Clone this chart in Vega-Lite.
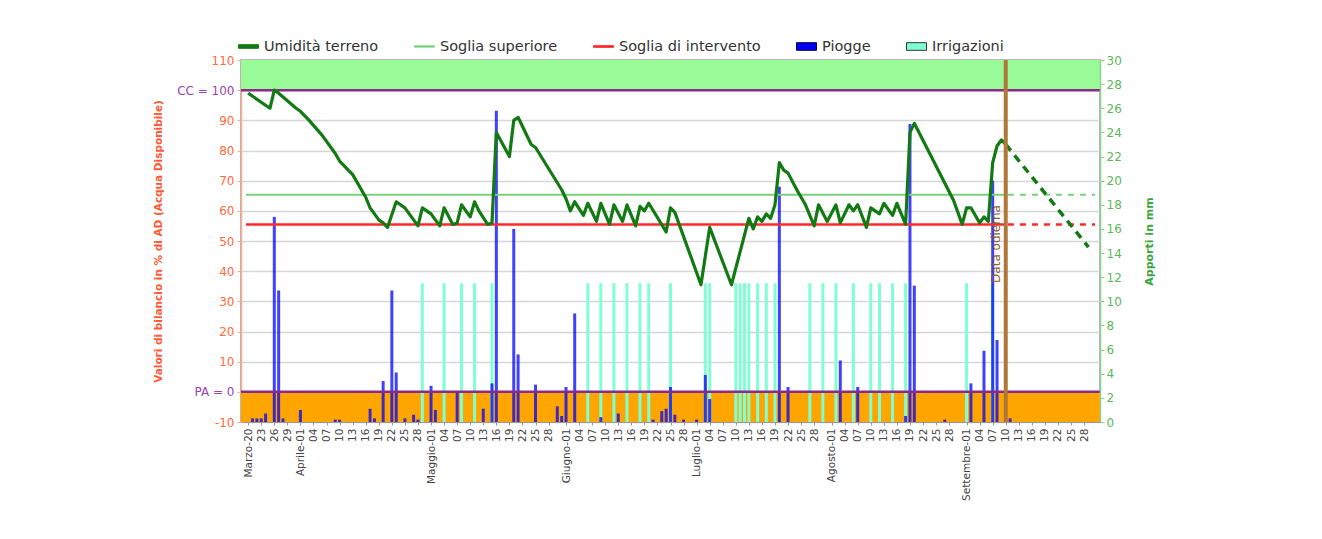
{
  "$schema": "https://vega.github.io/schema/vega-lite/v6.json",
  "width": 859,
  "height": 362,
  "autosize": {"type": "none"},
  "padding": {"left": 241, "top": 60, "right": 222, "bottom": 117},
  "background": "white",
  "config": {
    "font": "DejaVu Sans",
    "view": {"stroke": "#9a9a9a", "strokeWidth": 1.5},
    "axis": {"labelFont": "DejaVu Sans", "titleFont": "DejaVu Sans", "labelOverlap": false},
    "legend": {"labelFont": "DejaVu Sans"}
  },
  "datasets": {
    "umidita": [
      {"data": "2011-03-20T00:00", "v": 99}, {"data": "2011-03-25T00:00", "v": 94}, {"data": "2011-03-26T00:00", "v": 100},
      {"data": "2011-03-27T00:00", "v": 99}, {"data": "2011-03-31T00:00", "v": 94}, {"data": "2011-04-01T00:00", "v": 93},
      {"data": "2011-04-03T00:00", "v": 90}, {"data": "2011-04-06T00:00", "v": 85}, {"data": "2011-04-09T00:00", "v": 79},
      {"data": "2011-04-10T00:00", "v": 76.5}, {"data": "2011-04-13T00:00", "v": 72}, {"data": "2011-04-16T00:00", "v": 64.5},
      {"data": "2011-04-17T00:00", "v": 61}, {"data": "2011-04-19T00:00", "v": 57}, {"data": "2011-04-20T00:00", "v": 56},
      {"data": "2011-04-21T00:00", "v": 54.5}, {"data": "2011-04-23T00:00", "v": 63}, {"data": "2011-04-25T00:00", "v": 61},
      {"data": "2011-04-28T00:00", "v": 55}, {"data": "2011-04-29T00:00", "v": 61}, {"data": "2011-05-01T00:00", "v": 59},
      {"data": "2011-05-03T00:00", "v": 55}, {"data": "2011-05-04T00:00", "v": 61}, {"data": "2011-05-06T00:00", "v": 55.5},
      {"data": "2011-05-07T00:00", "v": 56}, {"data": "2011-05-08T00:00", "v": 62}, {"data": "2011-05-10T00:00", "v": 58},
      {"data": "2011-05-11T00:00", "v": 63}, {"data": "2011-05-12T00:00", "v": 60}, {"data": "2011-05-14T00:00", "v": 55.5},
      {"data": "2011-05-15T00:00", "v": 56}, {"data": "2011-05-16T00:00", "v": 86}, {"data": "2011-05-19T00:00", "v": 78},
      {"data": "2011-05-20T00:00", "v": 90}, {"data": "2011-05-21T00:00", "v": 91}, {"data": "2011-05-24T00:00", "v": 82},
      {"data": "2011-05-25T00:00", "v": 81}, {"data": "2011-05-31T00:00", "v": 67}, {"data": "2011-06-01T00:00", "v": 64},
      {"data": "2011-06-02T00:00", "v": 60}, {"data": "2011-06-03T00:00", "v": 63}, {"data": "2011-06-05T00:00", "v": 58.5},
      {"data": "2011-06-06T00:00", "v": 62.5}, {"data": "2011-06-08T00:00", "v": 56.5}, {"data": "2011-06-09T00:00", "v": 62.5},
      {"data": "2011-06-11T00:00", "v": 55.5}, {"data": "2011-06-12T00:00", "v": 62}, {"data": "2011-06-14T00:00", "v": 56.5},
      {"data": "2011-06-15T00:00", "v": 62}, {"data": "2011-06-17T00:00", "v": 55}, {"data": "2011-06-18T00:00", "v": 61.5},
      {"data": "2011-06-19T00:00", "v": 60}, {"data": "2011-06-20T00:00", "v": 62.5}, {"data": "2011-06-24T00:00", "v": 53},
      {"data": "2011-06-25T00:00", "v": 61}, {"data": "2011-06-26T00:00", "v": 59.5}, {"data": "2011-07-02T00:00", "v": 35.5},
      {"data": "2011-07-04T00:00", "v": 54.5}, {"data": "2011-07-09T00:00", "v": 35.5}, {"data": "2011-07-13T00:00", "v": 57.5},
      {"data": "2011-07-14T00:00", "v": 54}, {"data": "2011-07-15T00:00", "v": 58}, {"data": "2011-07-16T00:00", "v": 56.5},
      {"data": "2011-07-17T00:00", "v": 59}, {"data": "2011-07-18T00:00", "v": 57.5}, {"data": "2011-07-19T00:00", "v": 62},
      {"data": "2011-07-20T00:00", "v": 76}, {"data": "2011-07-21T00:00", "v": 73.5}, {"data": "2011-07-22T00:00", "v": 72.5},
      {"data": "2011-07-24T00:00", "v": 67}, {"data": "2011-07-26T00:00", "v": 62}, {"data": "2011-07-28T00:00", "v": 55},
      {"data": "2011-07-29T00:00", "v": 62}, {"data": "2011-07-31T00:00", "v": 56.5}, {"data": "2011-08-02T00:00", "v": 62},
      {"data": "2011-08-03T00:00", "v": 56}, {"data": "2011-08-05T00:00", "v": 62}, {"data": "2011-08-06T00:00", "v": 60},
      {"data": "2011-08-07T00:00", "v": 62}, {"data": "2011-08-09T00:00", "v": 54.5}, {"data": "2011-08-10T00:00", "v": 61},
      {"data": "2011-08-12T00:00", "v": 59}, {"data": "2011-08-13T00:00", "v": 62.5}, {"data": "2011-08-15T00:00", "v": 58.5},
      {"data": "2011-08-16T00:00", "v": 62.5}, {"data": "2011-08-18T00:00", "v": 55.5}, {"data": "2011-08-19T00:00", "v": 86},
      {"data": "2011-08-20T00:00", "v": 89}, {"data": "2011-08-29T00:00", "v": 63.5}, {"data": "2011-08-31T00:00", "v": 55.5},
      {"data": "2011-09-01T00:00", "v": 61}, {"data": "2011-09-02T00:00", "v": 61}, {"data": "2011-09-04T00:00", "v": 56},
      {"data": "2011-09-05T00:00", "v": 58}, {"data": "2011-09-06T00:00", "v": 56.5}, {"data": "2011-09-07T00:00", "v": 76},
      {"data": "2011-09-08T00:00", "v": 81.5}, {"data": "2011-09-09T00:00", "v": 83.5}, {"data": "2011-09-10T00:00", "v": 82}
    ],
    "previsione": [
      {"data": "2011-09-10T00:00", "v": 82}, {"data": "2011-09-29T00:00", "v": 48}
    ],
    "soglie": [
      {"serie": "sup", "tipo": "oss", "data": "2011-03-19T12:00", "v": 65.3},
      {"serie": "sup", "tipo": "oss", "data": "2011-09-10T00:00", "v": 65.3},
      {"serie": "sup", "tipo": "prev", "data": "2011-09-10T12:00", "v": 65.3},
      {"serie": "sup", "tipo": "prev", "data": "2011-09-30T12:00", "v": 65.3},
      {"serie": "int", "tipo": "oss", "data": "2011-03-19T12:00", "v": 55.5},
      {"serie": "int", "tipo": "oss", "data": "2011-09-10T00:00", "v": 55.5},
      {"serie": "int", "tipo": "prev", "data": "2011-09-10T12:00", "v": 55.5},
      {"serie": "int", "tipo": "prev", "data": "2011-09-30T12:00", "v": 55.5}
    ],
    "piogge": [
      {"data": "2011-03-21T00:00", "mm": 0.3}, {"data": "2011-03-22T00:00", "mm": 0.3}, {"data": "2011-03-23T00:00", "mm": 0.3},
      {"data": "2011-03-24T00:00", "mm": 0.7}, {"data": "2011-03-26T00:00", "mm": 17}, {"data": "2011-03-27T00:00", "mm": 10.9},
      {"data": "2011-03-28T00:00", "mm": 0.3}, {"data": "2011-04-01T00:00", "mm": 1.0}, {"data": "2011-04-09T00:00", "mm": 0.2},
      {"data": "2011-04-10T00:00", "mm": 0.2}, {"data": "2011-04-17T00:00", "mm": 1.1}, {"data": "2011-04-18T00:00", "mm": 0.3},
      {"data": "2011-04-20T00:00", "mm": 3.4}, {"data": "2011-04-22T00:00", "mm": 10.9}, {"data": "2011-04-23T00:00", "mm": 4.1},
      {"data": "2011-04-25T00:00", "mm": 0.3}, {"data": "2011-04-27T00:00", "mm": 0.6}, {"data": "2011-04-28T00:00", "mm": 0.2},
      {"data": "2011-05-01T00:00", "mm": 3.0}, {"data": "2011-05-02T00:00", "mm": 1.0}, {"data": "2011-05-07T00:00", "mm": 2.5},
      {"data": "2011-05-13T00:00", "mm": 1.1}, {"data": "2011-05-15T00:00", "mm": 3.2}, {"data": "2011-05-16T00:00", "mm": 25.8},
      {"data": "2011-05-20T00:00", "mm": 16.0}, {"data": "2011-05-21T00:00", "mm": 5.6}, {"data": "2011-05-25T00:00", "mm": 3.1},
      {"data": "2011-05-30T00:00", "mm": 1.3}, {"data": "2011-05-31T00:00", "mm": 0.5}, {"data": "2011-06-01T00:00", "mm": 2.9},
      {"data": "2011-06-03T00:00", "mm": 9.0}, {"data": "2011-06-09T00:00", "mm": 0.4}, {"data": "2011-06-13T00:00", "mm": 0.7},
      {"data": "2011-06-21T00:00", "mm": 0.2}, {"data": "2011-06-23T00:00", "mm": 0.9}, {"data": "2011-06-24T00:00", "mm": 1.1},
      {"data": "2011-06-25T00:00", "mm": 2.9}, {"data": "2011-06-26T00:00", "mm": 0.6}, {"data": "2011-06-28T00:00", "mm": 0.2},
      {"data": "2011-07-01T00:00", "mm": 0.2}, {"data": "2011-07-03T00:00", "mm": 3.9}, {"data": "2011-07-04T00:00", "mm": 1.9},
      {"data": "2011-07-20T00:00", "mm": 19.5}, {"data": "2011-07-22T00:00", "mm": 2.9}, {"data": "2011-08-03T00:00", "mm": 5.1},
      {"data": "2011-08-07T00:00", "mm": 2.9}, {"data": "2011-08-18T00:00", "mm": 0.5}, {"data": "2011-08-19T00:00", "mm": 24.7},
      {"data": "2011-08-20T00:00", "mm": 11.3}, {"data": "2011-08-27T00:00", "mm": 0.2}, {"data": "2011-09-02T00:00", "mm": 3.2},
      {"data": "2011-09-05T00:00", "mm": 5.9}, {"data": "2011-09-07T00:00", "mm": 20}, {"data": "2011-09-08T00:00", "mm": 6.8},
      {"data": "2011-09-11T00:00", "mm": 0.3}
    ],
    "irrigazioni": [
      {"data": "2011-04-29T00:00", "mm": 11.5}, {"data": "2011-05-04T00:00", "mm": 11.5}, {"data": "2011-05-08T00:00", "mm": 11.5},
      {"data": "2011-05-11T00:00", "mm": 11.5}, {"data": "2011-05-15T00:00", "mm": 11.5}, {"data": "2011-06-06T00:00", "mm": 11.5},
      {"data": "2011-06-09T00:00", "mm": 11.5}, {"data": "2011-06-12T00:00", "mm": 11.5}, {"data": "2011-06-15T00:00", "mm": 11.5},
      {"data": "2011-06-18T00:00", "mm": 11.5}, {"data": "2011-06-20T00:00", "mm": 11.5}, {"data": "2011-06-25T00:00", "mm": 11.5},
      {"data": "2011-07-03T00:00", "mm": 11.5}, {"data": "2011-07-04T00:00", "mm": 11.5}, {"data": "2011-07-10T00:00", "mm": 11.5},
      {"data": "2011-07-11T00:00", "mm": 11.5}, {"data": "2011-07-12T00:00", "mm": 11.5}, {"data": "2011-07-13T00:00", "mm": 11.5},
      {"data": "2011-07-15T00:00", "mm": 11.5}, {"data": "2011-07-17T00:00", "mm": 11.5}, {"data": "2011-07-19T00:00", "mm": 11.5},
      {"data": "2011-07-27T00:00", "mm": 11.5}, {"data": "2011-07-30T00:00", "mm": 11.5}, {"data": "2011-08-02T00:00", "mm": 11.5},
      {"data": "2011-08-06T00:00", "mm": 11.5}, {"data": "2011-08-10T00:00", "mm": 11.5}, {"data": "2011-08-12T00:00", "mm": 11.5},
      {"data": "2011-08-15T00:00", "mm": 11.5}, {"data": "2011-08-18T00:00", "mm": 11.5}, {"data": "2011-09-01T00:00", "mm": 11.5},
      {"data": "2011-09-07T00:00", "mm": 11.5}
    ]
  },
  "layer": [
    {
      "data": {"values": [
        {"y0": -10, "y1": 0, "fascia": "PA"},
        {"y0": 100, "y1": 110, "fascia": "CC"}
      ]},
      "mark": {"type": "rect"},
      "encoding": {
        "y": {
          "field": "y0", "type": "quantitative",
          "scale": {"domain": [-10, 110], "nice": false, "zero": false},
          "axis": {
            "title": "Valori di bilancio in % di AD (Acqua Disponibile)",
            "titleColor": "#ff5a36", "titleFontSize": 10.5, "titleFontWeight": "bold", "titlePadding": 13,
            "values": [-10, 0, 10, 20, 30, 40, 50, 60, 70, 80, 90, 100, 110],
            "tickCount": 100,
            "labelExpr": "datum.value == 100 ? 'CC = 100' : (datum.value == 0 ? 'PA = 0' : (datum.value < 0 ? '-10' : '' + datum.value))",
            "labelColor": {"condition": {"test": "datum.value == 100 || datum.value == 0", "value": "#9c3fb3"}, "value": "#ff6a3d"},
            "labelFontSize": 12,
            "labelPadding": 3,
            "labelOverlap": false,
            "grid": true, "gridColor": "#d6d6d6", "gridWidth": 1.5,
            "domainColor": "#ffab8f", "domainWidth": 1.5,
            "tickColor": "#ffab8f", "tickSize": 4
          }
        },
        "y2": {"field": "y1"},
        "color": {
          "field": "fascia", "type": "nominal",
          "scale": {"domain": ["PA", "CC"], "range": ["#ffa500", "#98fb98"]},
          "legend": null
        }
      }
    },
    {
      "layer": [
        {
          "data": {"name": "irrigazioni"},
          "mark": {"type": "bar", "width": 3, "color": "#80ffd4"},
          "encoding": {
            "x": {
              "field": "data", "type": "temporal",
              "scale": {"domain": [{"year": 2011, "month": 3, "date": 19, "hours": 12}, {"year": 2011, "month": 9, "date": 30, "hours": 12}]},
              "axis": {
                "title": null,
                "tickCount": 500,
                "values": [
                  {"year": 2011, "month": 3, "date": 20}, {"year": 2011, "month": 3, "date": 23}, {"year": 2011, "month": 3, "date": 26}, {"year": 2011, "month": 3, "date": 29},
                  {"year": 2011, "month": 4, "date": 1}, {"year": 2011, "month": 4, "date": 4}, {"year": 2011, "month": 4, "date": 7}, {"year": 2011, "month": 4, "date": 10}, {"year": 2011, "month": 4, "date": 13}, {"year": 2011, "month": 4, "date": 16}, {"year": 2011, "month": 4, "date": 19}, {"year": 2011, "month": 4, "date": 22}, {"year": 2011, "month": 4, "date": 25}, {"year": 2011, "month": 4, "date": 28},
                  {"year": 2011, "month": 5, "date": 1}, {"year": 2011, "month": 5, "date": 4}, {"year": 2011, "month": 5, "date": 7}, {"year": 2011, "month": 5, "date": 10}, {"year": 2011, "month": 5, "date": 13}, {"year": 2011, "month": 5, "date": 16}, {"year": 2011, "month": 5, "date": 19}, {"year": 2011, "month": 5, "date": 22}, {"year": 2011, "month": 5, "date": 25}, {"year": 2011, "month": 5, "date": 28},
                  {"year": 2011, "month": 6, "date": 1}, {"year": 2011, "month": 6, "date": 4}, {"year": 2011, "month": 6, "date": 7}, {"year": 2011, "month": 6, "date": 10}, {"year": 2011, "month": 6, "date": 13}, {"year": 2011, "month": 6, "date": 16}, {"year": 2011, "month": 6, "date": 19}, {"year": 2011, "month": 6, "date": 22}, {"year": 2011, "month": 6, "date": 25}, {"year": 2011, "month": 6, "date": 28},
                  {"year": 2011, "month": 7, "date": 1}, {"year": 2011, "month": 7, "date": 4}, {"year": 2011, "month": 7, "date": 7}, {"year": 2011, "month": 7, "date": 10}, {"year": 2011, "month": 7, "date": 13}, {"year": 2011, "month": 7, "date": 16}, {"year": 2011, "month": 7, "date": 19}, {"year": 2011, "month": 7, "date": 22}, {"year": 2011, "month": 7, "date": 25}, {"year": 2011, "month": 7, "date": 28},
                  {"year": 2011, "month": 8, "date": 1}, {"year": 2011, "month": 8, "date": 4}, {"year": 2011, "month": 8, "date": 7}, {"year": 2011, "month": 8, "date": 10}, {"year": 2011, "month": 8, "date": 13}, {"year": 2011, "month": 8, "date": 16}, {"year": 2011, "month": 8, "date": 19}, {"year": 2011, "month": 8, "date": 22}, {"year": 2011, "month": 8, "date": 25}, {"year": 2011, "month": 8, "date": 28},
                  {"year": 2011, "month": 9, "date": 1}, {"year": 2011, "month": 9, "date": 4}, {"year": 2011, "month": 9, "date": 7}, {"year": 2011, "month": 9, "date": 10}, {"year": 2011, "month": 9, "date": 13}, {"year": 2011, "month": 9, "date": 16}, {"year": 2011, "month": 9, "date": 19}, {"year": 2011, "month": 9, "date": 22}, {"year": 2011, "month": 9, "date": 25}, {"year": 2011, "month": 9, "date": 28}
                ],
                "labelExpr": "(date(datum.value) == 1 || (month(datum.value) == 2 && date(datum.value) == 20)) ? ['Gennaio','Febbraio','Marzo','Aprile','Maggio','Giugno','Luglio','Agosto','Settembre','Ottobre','Novembre','Dicembre'][month(datum.value)] + '-' + timeFormat(datum.value, '%d') : timeFormat(datum.value, '%d')",
                "labelAngle": -90,
                "labelFontSize": 10.5,
                "labelColor": "#444444",
                "labelOverlap": false,
                "labelBound": false,
                "labelFlush": false,
                "labelPadding": 3,
                "tickColor": "#999999",
                "tickSize": 3,
                "domainColor": "#999999",
                "grid": false
              }
            },
            "y": {
              "field": "mm", "type": "quantitative",
              "scale": {"domain": [0, 30], "nice": false, "zero": false},
              "axis": {
                "orient": "right",
                "title": "Apporti in mm",
                "titleAngle": 270,
                "titleColor": "#3aa53a", "titleFontSize": 11, "titleFontWeight": "bold", "titlePadding": 33,
                "values": [0, 2, 4, 6, 8, 10, 12, 14, 16, 18, 20, 22, 24, 26, 28, 30],
                "tickCount": 100,
                "format": "d",
                "labelColor": "#5cb85c", "labelFontSize": 12,
                "labelOverlap": false, "labelFlush": false, "labelBound": false,
                "grid": false,
                "domainColor": "#8fd18f", "domainWidth": 1.5,
                "tickColor": "#8fd18f", "tickSize": 4,
                "zindex": 1
              }
            }
          }
        },
        {
          "data": {"name": "piogge"},
          "mark": {"type": "bar", "width": 3, "color": "#0000ff", "opacity": 0.75},
          "encoding": {
            "x": {"field": "data", "type": "temporal"},
            "y": {"field": "mm", "type": "quantitative"}
          }
        }
      ]
    },
    {
      "layer": [
        {
          "data": {"values": [{"v": 100}, {"v": 0}]},
          "mark": {"type": "rule", "color": "#8a2a8a", "strokeWidth": 2.5},
          "encoding": {
            "y": {"field": "v", "type": "quantitative", "scale": {"domain": [-10, 110], "nice": false, "zero": false}, "axis": null}
          }
        },
        {
          "data": {"name": "soglie"},
          "transform": [{"filter": "datum.serie == 'sup' && datum.tipo == 'oss'"}],
          "mark": {"type": "line", "color": "#7ccf7c", "strokeWidth": 2},
          "encoding": {
            "x": {"field": "data", "type": "temporal"},
            "y": {"field": "v", "type": "quantitative"}
          }
        },
        {
          "data": {"name": "soglie"},
          "transform": [{"filter": "datum.serie == 'sup' && datum.tipo == 'prev'"}],
          "mark": {"type": "line", "color": "#7ccf7c", "strokeWidth": 2, "strokeDash": [6, 6]},
          "encoding": {
            "x": {"field": "data", "type": "temporal"},
            "y": {"field": "v", "type": "quantitative"}
          }
        },
        {
          "data": {"name": "soglie"},
          "transform": [{"filter": "datum.serie == 'int' && datum.tipo == 'oss'"}],
          "mark": {"type": "line", "color": "#ff2a2a", "strokeWidth": 2.5},
          "encoding": {
            "x": {"field": "data", "type": "temporal"},
            "y": {"field": "v", "type": "quantitative"}
          }
        },
        {
          "data": {"name": "soglie"},
          "transform": [{"filter": "datum.serie == 'int' && datum.tipo == 'prev'"}],
          "mark": {"type": "line", "color": "#ff2a2a", "strokeWidth": 2.5, "strokeDash": [6, 6]},
          "encoding": {
            "x": {"field": "data", "type": "temporal"},
            "y": {"field": "v", "type": "quantitative"}
          }
        },
        {
          "data": {"name": "umidita"},
          "mark": {"type": "line", "color": "#137a13", "strokeWidth": 3.2, "strokeJoin": "round"},
          "encoding": {
            "x": {"field": "data", "type": "temporal"},
            "y": {"field": "v", "type": "quantitative"}
          }
        },
        {
          "data": {"name": "previsione"},
          "mark": {"type": "line", "color": "#137a13", "strokeWidth": 3.5, "strokeDash": [8, 6]},
          "encoding": {
            "x": {"field": "data", "type": "temporal"},
            "y": {"field": "v", "type": "quantitative"}
          }
        },
        {
          "data": {"values": [{"data": "2011-09-10T00:00"}]},
          "mark": {"type": "rule", "color": "#b07838", "strokeWidth": 4},
          "encoding": {
            "x": {"field": "data", "type": "temporal"}
          }
        },
        {
          "data": {"values": [{"data": "2011-09-10T00:00", "v": 49, "testo": "Data odierna"}]},
          "mark": {"type": "text", "angle": 270, "align": "center", "baseline": "bottom", "dy": -3, "fontSize": 12, "color": "#8b5a2b"},
          "encoding": {
            "x": {"field": "data", "type": "temporal"},
            "y": {"field": "v", "type": "quantitative"},
            "text": {"field": "testo"}
          }
        },
        {
          "data": {"values": [
            {"serie": "Umidità terreno", "data": "2011-01-01T00:00", "v": 50},
            {"serie": "Soglia superiore", "data": "2011-01-01T00:00", "v": 50},
            {"serie": "Soglia di intervento", "data": "2011-01-01T00:00", "v": 50},
            {"serie": "Piogge", "data": "2011-01-01T00:00", "v": 50},
            {"serie": "Irrigazioni", "data": "2011-01-01T00:00", "v": 50}
          ]},
          "mark": {"type": "point", "filled": true, "clip": true, "size": 400, "opacity": 1},
          "encoding": {
            "x": {"field": "data", "type": "temporal"},
            "y": {"field": "v", "type": "quantitative"},
            "fill": {
              "field": "serie", "type": "nominal",
              "scale": {"domain": ["Umidità terreno", "Soglia superiore", "Soglia di intervento", "Piogge", "Irrigazioni"], "range": ["#137a13", "#7ccf7c", "#ff2a2a", "#0000ee", "#80ffd4"]},
              "legend": {"orient": "none", "legendX": -3, "legendY": -24, "direction": "horizontal", "title": null, "labelFontSize": 14.5, "labelColor": "#333333", "symbolSize": 400, "columnPadding": 33, "labelOffset": 5, "symbolStrokeWidth": 1, "symbolOpacity": 1}
            },
            "stroke": {
              "field": "serie", "type": "nominal",
              "scale": {"domain": ["Umidità terreno", "Soglia superiore", "Soglia di intervento", "Piogge", "Irrigazioni"], "range": ["#137a13", "#7ccf7c", "#ff2a2a", "#00005a", "#333333"]},
              "legend": {"orient": "none", "legendX": -3, "legendY": -24, "direction": "horizontal", "title": null, "labelFontSize": 14.5, "labelColor": "#333333", "symbolSize": 400, "columnPadding": 33, "labelOffset": 5, "symbolStrokeWidth": 1, "symbolOpacity": 1}
            },
            "shape": {
              "field": "serie", "type": "nominal",
              "scale": {"domain": ["Umidità terreno", "Soglia superiore", "Soglia di intervento", "Piogge", "Irrigazioni"], "range": ["M-1,-0.18H1V0.18H-1Z", "M-1,-0.06H1V0.06H-1Z", "M-1,-0.08H1V0.08H-1Z", "M-1,-0.38H1V0.38H-1Z", "M-1,-0.38H1V0.38H-1Z"]},
              "legend": {"orient": "none", "legendX": -3, "legendY": -24, "direction": "horizontal", "title": null, "labelFontSize": 14.5, "labelColor": "#333333", "symbolSize": 400, "columnPadding": 33, "labelOffset": 5, "symbolStrokeWidth": 1, "symbolOpacity": 1}
            }
          }
        }
      ]
    }
  ],
  "resolve": {"scale": {"y": "independent"}}
}
